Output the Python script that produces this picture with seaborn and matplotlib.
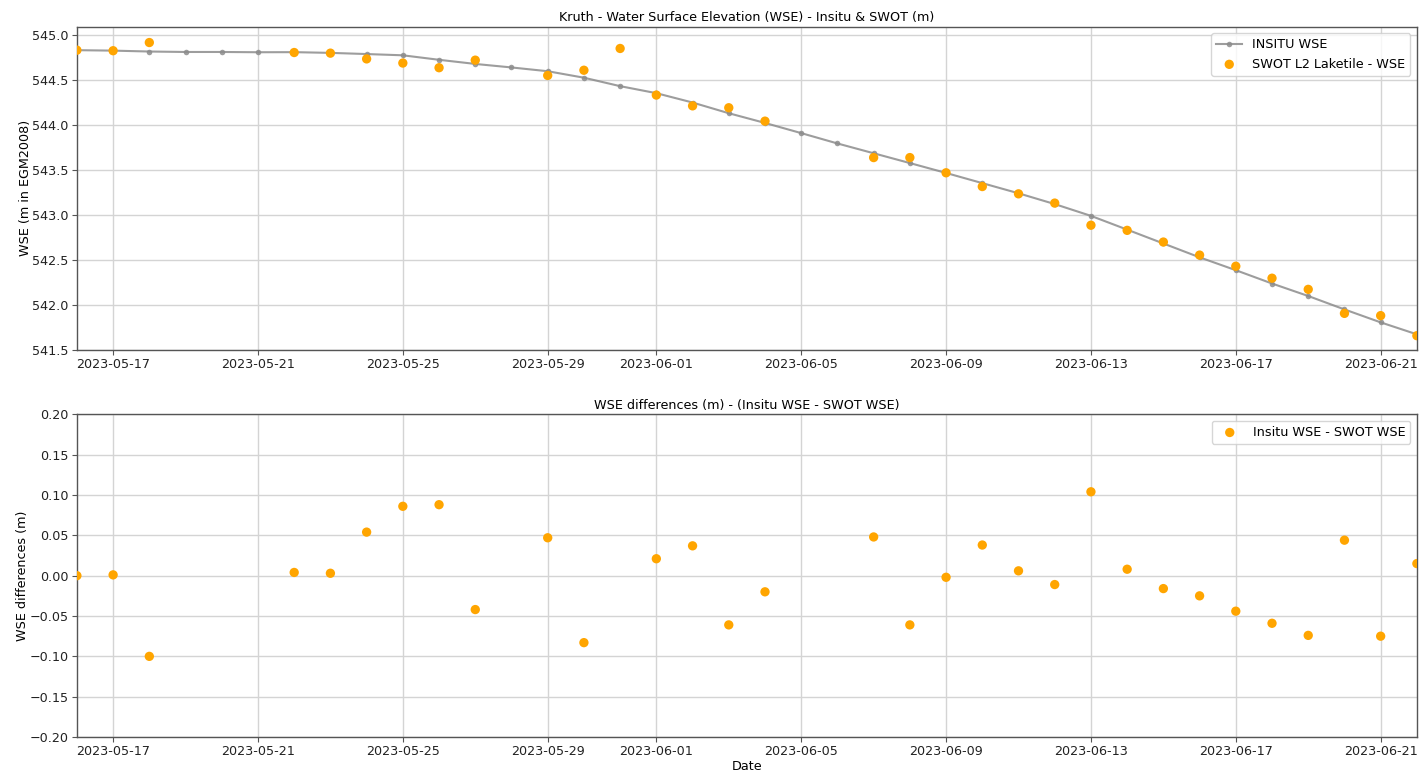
import matplotlib
matplotlib.use("Agg")
import matplotlib.pyplot as plt
import matplotlib.dates as mdates
import seaborn as sns
import pandas as pd
import numpy as np

# ---- data ----
insitu_dates = pd.date_range("2023-05-16", "2023-06-22", freq="D")
insitu_wse = [544.83, 544.825, 544.815, 544.81, 544.81, 544.807, 544.808, 544.80,
              544.787, 544.773, 544.723, 544.677, 544.638, 544.596, 544.524, 544.43,
              544.352, 544.248, 544.129, 544.021, 543.908, 543.793, 543.684, 543.575,
              543.465, 543.352, 543.239, 543.119, 542.988, 542.835, 542.681, 542.527,
              542.384, 542.236, 542.097, 541.948, 541.804, 541.671]

swot_dates = pd.to_datetime([
    "2023-05-16", "2023-05-17", "2023-05-18", "2023-05-22", "2023-05-23", "2023-05-24",
    "2023-05-25", "2023-05-26", "2023-05-27", "2023-05-29", "2023-05-30", "2023-05-31",
    "2023-06-01", "2023-06-02", "2023-06-03", "2023-06-04", "2023-06-07", "2023-06-08",
    "2023-06-09", "2023-06-10", "2023-06-11", "2023-06-12", "2023-06-13", "2023-06-14",
    "2023-06-15", "2023-06-16", "2023-06-17", "2023-06-18", "2023-06-19", "2023-06-20",
    "2023-06-21", "2023-06-22"])
swot_wse = [544.83, 544.824, 544.915, 544.804, 544.797, 544.733,
            544.687, 544.635, 544.719, 544.549, 544.607, 544.849,
            544.331, 544.211, 544.190, 544.041, 543.636, 543.636,
            543.467, 543.314, 543.233, 543.130, 542.884, 542.827,
            542.697, 542.552, 542.428, 542.295, 542.171, 541.904,
            541.879, 541.656]

# ---- frames ----
df_in = pd.DataFrame({"date": insitu_dates, "wse": insitu_wse})
df_sw = pd.DataFrame({"date": swot_dates, "wse": swot_wse})
merged = df_sw.merge(df_in, on="date", suffixes=("_swot", "_insitu"))
merged["diff"] = merged["wse_insitu"] - merged["wse_swot"]

FS = 9.2
plt.rcParams.update({
    "font.family": ["DejaVu Sans"],
    "font.size": FS,
    "axes.edgecolor": "#555555",
    "xtick.color": "#555555",
    "ytick.color": "#555555",
    "xtick.labelcolor": "#222222",
    "ytick.labelcolor": "#222222",
})

fig = plt.figure(figsize=(14.24, 7.72), dpi=100)
ax1 = fig.add_axes([0.054, 0.547, 0.941, 0.4183])
ax2 = fig.add_axes([0.054, 0.0453, 0.941, 0.418])

orange = "#FFA500"
grey = "#8c8c8c"

sns.lineplot(data=df_in, x="date", y="wse", ax=ax1, color=grey, alpha=0.85,
             marker="o", markersize=4, markeredgewidth=0, linewidth=1.5,
             label="INSITU WSE", zorder=2)
sns.scatterplot(data=df_sw, x="date", y="wse", ax=ax1, color=orange, s=45,
                edgecolor="none", label="SWOT L2 Laketile - WSE", zorder=3)

sns.scatterplot(data=merged, x="date", y="diff", ax=ax2, color=orange, s=45,
                edgecolor="none", label="Insitu WSE - SWOT WSE", zorder=3)

xmin, xmax = insitu_dates[0], insitu_dates[-1]
for ax in (ax1, ax2):
    ax.set_xlim(xmin, xmax)
    ax.xaxis.set_major_locator(mdates.DayLocator(bymonthday=[1, 5, 9, 13, 17, 21, 25, 29]))
    ax.xaxis.set_major_formatter(mdates.DateFormatter("%Y-%m-%d"))
    ax.grid(True, color="#d4d4d4", linewidth=1.0)
    ax.set_axisbelow(True)
    ax.tick_params(length=3.5, pad=2.5, labelsize=FS)
    for sp in ax.spines.values():
        sp.set_linewidth(1.0)

ax1.set_ylim(541.5, 545.09)
ax1.set_yticks(np.arange(541.5, 545.01, 0.5))
ax1.set_title("Kruth - Water Surface Elevation (WSE) - Insitu & SWOT (m)", fontsize=FS, pad=4)
ax1.set_ylabel("WSE (m in EGM2008)", labelpad=0)
ax1.set_xlabel("")
ax1.legend(loc="upper right", fontsize=FS, framealpha=0.8)

ax2.set_ylim(-0.2, 0.2)
ax2.set_yticks(np.arange(-0.20, 0.201, 0.05))
ax2.set_title("WSE differences (m) - (Insitu WSE - SWOT WSE)", fontsize=FS, pad=4)
ax2.set_ylabel("WSE differences (m)", labelpad=0)
ax2.set_xlabel("Date", labelpad=1)
ax2.legend(loc="upper right", fontsize=FS, framealpha=0.8)

fig.savefig("out.png", dpi=100)
